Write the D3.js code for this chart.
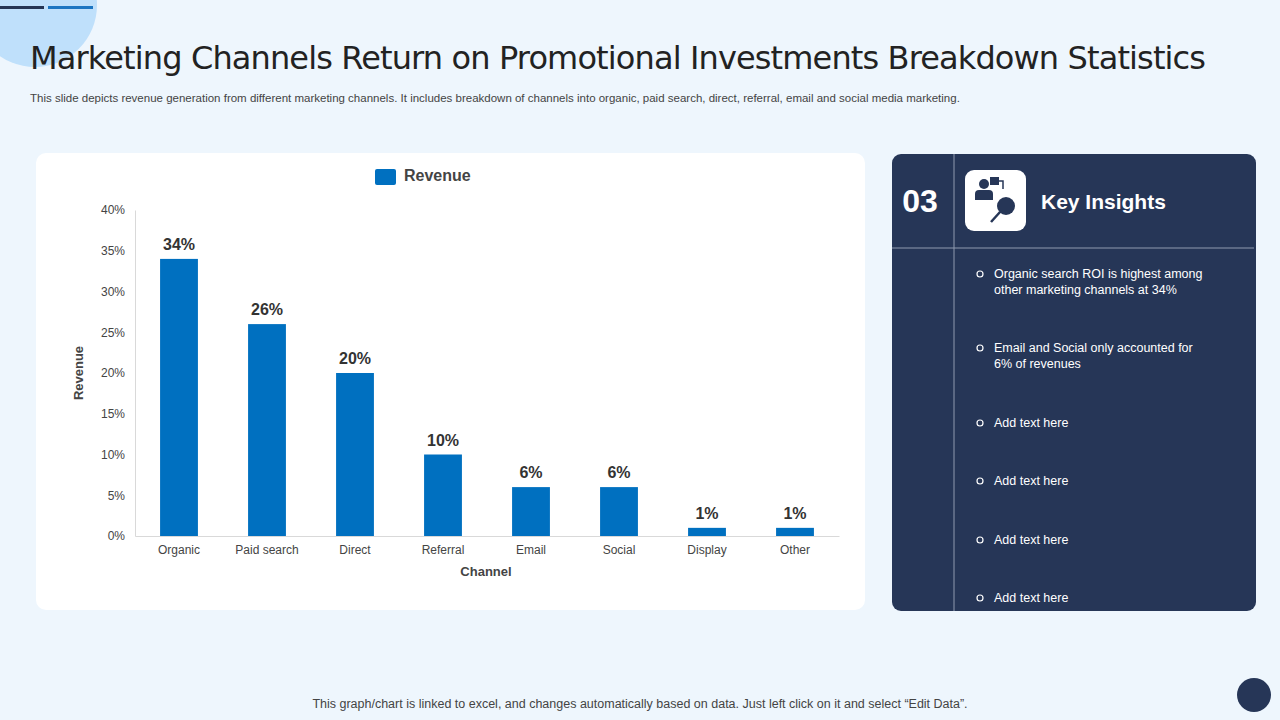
<!DOCTYPE html><html><head><meta charset="utf-8">
<script src="https://cdn.jsdelivr.net/npm/d3@7"></script>
<style>body{margin:0;background:#eef6fd;font-family:"Liberation Sans",Arial,sans-serif}</style></head><body>
<svg id="c" width="1280" height="720"></svg>
<script>
const categories=["Organic","Paid search","Direct","Referral","Email","Social","Display","Other"];
const revenue=[34,26,20,10,6,6,1,1];
const yTicks=[0,5,10,15,20,25,30,35,40];
const insights=["Organic search ROI is highest among|other marketing channels at 34%","Email and Social only accounted for|6% of revenues","Add text here","Add text here","Add text here","Add text here"];
const insightY=[274,348,423,481,540,598];

const svg=d3.select("#c");
svg.append("rect").attr("width",1280).attr("height",720).attr("fill","#eef6fd");
svg.append("circle").attr("cx",35).attr("cy",5).attr("r",62).attr("fill","#bfe0fb");
svg.append("rect").attr("x",0).attr("y",6).attr("width",44).attr("height",3).attr("fill","#243554");
svg.append("rect").attr("x",48).attr("y",6).attr("width",45).attr("height",3).attr("fill","#1b75c2");
svg.append("text").attr("x",30).attr("y",69).attr("font-family","'DejaVu Sans',sans-serif").attr("font-size",32).attr("fill","#222").attr("textLength",1176).text("Marketing Channels Return on Promotional Investments Breakdown Statistics");
svg.append("text").attr("x",30).attr("y",102).attr("font-size",11.5).attr("fill","#444").text("This slide depicts revenue generation from different marketing channels. It includes breakdown of channels into organic, paid search, direct, referral, email and social media marketing.");
svg.append("rect").attr("x",36).attr("y",153).attr("width",829).attr("height",457).attr("rx",10).attr("fill","#fff");

const x=d3.scaleBand().domain(categories).range([135,839]).paddingInner(0.57).paddingOuter(0.285);
const y=d3.scaleLinear().domain([0,40]).range([536,210]);
const g=svg.append("g");
const ya=g.append("g").attr("transform","translate(135,0)").call(d3.axisLeft(y).tickValues(yTicks).tickFormat(d=>d+"%").tickSize(0).tickPadding(10));
ya.selectAll("text").attr("font-size",12).attr("fill","#444").attr("font-family","'Liberation Sans',Arial");
ya.select(".domain").attr("stroke","#d9d9d9");
const xa=g.append("g").attr("transform","translate(0,536)").call(d3.axisBottom(x).tickSize(0).tickPadding(9));
xa.selectAll("text").attr("font-size",12).attr("fill","#444").attr("font-family","'Liberation Sans',Arial");
xa.select(".domain").attr("stroke","#d9d9d9");
g.selectAll(".b").data(revenue).join("rect").attr("x",(d,i)=>x(categories[i])).attr("width",x.bandwidth()).attr("y",d=>y(d)).attr("height",d=>536-y(d)).attr("fill","#0070c0");
g.selectAll(".l").data(revenue).join("text").attr("x",(d,i)=>x(categories[i])+x.bandwidth()/2).attr("y",d=>y(d)-9).attr("text-anchor","middle").attr("font-size",16).attr("font-weight","bold").attr("fill","#333").text(d=>d+"%");
svg.append("text").attr("x",486).attr("y",576).attr("text-anchor","middle").attr("font-size",13).attr("font-weight","bold").attr("fill","#444").text("Channel");
svg.append("text").attr("transform","translate(83,373) rotate(-90)").attr("text-anchor","middle").attr("font-size",13).attr("font-weight","bold").attr("fill","#444").text("Revenue");
svg.append("rect").attr("x",375).attr("y",169).attr("width",21).attr("height",16).attr("rx",2).attr("fill","#0070c0");
svg.append("text").attr("x",404).attr("y",181).attr("font-size",16).attr("font-weight","bold").attr("fill","#444").text("Revenue");

// insights panel
svg.append("rect").attr("x",892).attr("y",154).attr("width",364).attr("height",457).attr("rx",9).attr("fill","#263657");
svg.append("line").attr("x1",954).attr("x2",954).attr("y1",154).attr("y2",611).attr("stroke","#8f9ab0").attr("stroke-width",1);
svg.append("line").attr("x1",892).attr("x2",1254).attr("y1",248).attr("y2",248).attr("stroke","#8f9ab0").attr("stroke-width",1);
svg.append("text").attr("x",920).attr("y",212).attr("text-anchor","middle").attr("font-size",32).attr("font-weight","bold").attr("fill","#fff").text("03");
svg.append("rect").attr("x",965).attr("y",170).attr("width",61).attr("height",61).attr("rx",9).attr("fill","#fff");
const ic=svg.append("g").attr("fill","#263657");
ic.append("circle").attr("cx",984).attr("cy",184).attr("r",5);
ic.append("path").attr("d","M975,200 v-6 a4,4 0 0 1 4,-4 h10 a4,4 0 0 1 4,4 v6 z");
ic.append("rect").attr("x",990).attr("y",177).attr("width",9).attr("height",8);
ic.append("path").attr("d","M999,181 h4 v8").attr("fill","none").attr("stroke","#263657").attr("stroke-width",1.5);
ic.append("circle").attr("cx",1006).attr("cy",206).attr("r",9);
ic.append("line").attr("x1",1000).attr("y1",212).attr("x2",991).attr("y2",222).attr("stroke","#263657").attr("stroke-width",2.5);
svg.append("text").attr("x",1041).attr("y",209).attr("font-size",21).attr("font-weight","bold").attr("fill","#fff").text("Key Insights");
insights.forEach((t,i)=>{
  svg.append("circle").attr("cx",980).attr("cy",insightY[i]).attr("r",3).attr("fill","none").attr("stroke","#fff").attr("stroke-width",1.2);
  t.split("|").forEach((ln,j)=>svg.append("text").attr("x",994).attr("y",insightY[i]+4+j*16).attr("font-size",12.5).attr("fill","#fff").text(ln));
});
svg.append("text").attr("x",640).attr("y",708).attr("text-anchor","middle").attr("font-size",12.5).attr("fill","#444").text("This graph/chart is linked to excel, and changes automatically based on data. Just left click on it and select “Edit Data”.");
svg.append("circle").attr("cx",1254).attr("cy",695).attr("r",17).attr("fill","#263657");
</script></body></html>
